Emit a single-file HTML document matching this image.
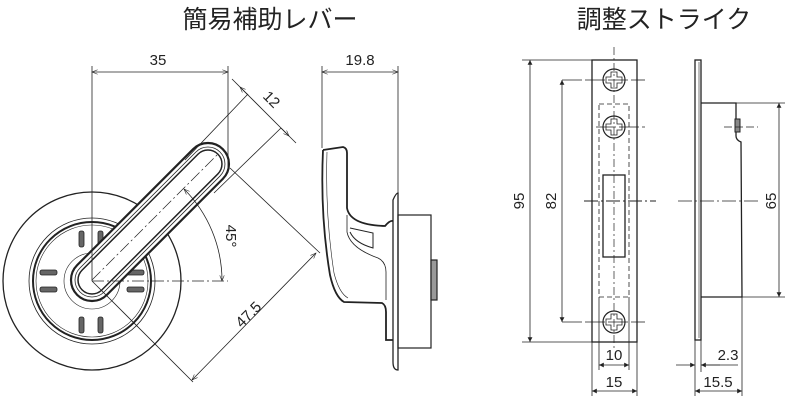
<!DOCTYPE html>
<html><head><meta charset="utf-8"><style>
body{margin:0;background:#fff}
svg{display:block}
text{font-family:"Liberation Sans","Noto Sans CJK JP",sans-serif;fill:#222}
</style></head><body>
<svg width="791" height="406" viewBox="0 0 791 406" xmlns="http://www.w3.org/2000/svg">
<defs>
<marker id="a" viewBox="0 0 10 10" refX="10" refY="5" markerWidth="9" markerHeight="7" orient="auto-start-reverse"><path d="M0,1 L10,5 L0,9" fill="none" stroke="#222" stroke-width="1"/></marker>
<marker id="f" viewBox="0 0 10 10" refX="10" refY="5" markerWidth="9" markerHeight="6" orient="auto-start-reverse"><path d="M0,0 L10,5 L0,10z" fill="#222"/></marker>
</defs>
<text x="270" y="28" font-size="25" text-anchor="middle">簡易補助レバー</text>
<text x="664" y="28" font-size="25" text-anchor="middle">調整ストライク</text>

<g stroke="#222" fill="none" stroke-width="1">
<!-- rosette -->
<circle cx="92" cy="281" r="89" stroke-width="1.3"/>
<circle cx="92" cy="281" r="63" stroke-width="0.8"/>
<circle cx="92" cy="281" r="59" stroke-width="2"/>
<circle cx="92" cy="281" r="56" stroke-width="0.6"/>
<circle cx="92" cy="281" r="28" stroke-width="0.6"/>
<g fill="#666" stroke-width="0.8">
<rect x="79" y="231" width="5" height="16" rx="2"/><rect x="98" y="231" width="5" height="16" rx="2"/>
<rect x="79" y="317" width="5" height="16" rx="2"/><rect x="98" y="317" width="5" height="16" rx="2"/>
<rect x="40" y="270" width="17" height="5" rx="2"/><rect x="40" y="287" width="17" height="5" rx="2"/>
<rect x="127" y="270" width="17" height="5" rx="2"/><rect x="127" y="287" width="17" height="5" rx="2"/>
</g>
<!-- lever -->
<g transform="translate(92,280) rotate(-45)">
<rect x="-21" y="-21" width="206" height="42" rx="21" fill="#fff" stroke-width="2.2"/>
<rect x="-17" y="-17" width="198" height="34" rx="17" stroke-width="0.8"/>
<rect x="-14" y="-14" width="192" height="28" rx="14" stroke-width="1.5"/>
<line x1="0" y1="0" x2="180" y2="0" stroke-dasharray="12,3,2,3" stroke-width="0.7"/>
</g>
<!-- dims left -->
<line x1="92" y1="66" x2="92" y2="281" stroke-width="0.8"/>
<line x1="228" y1="66" x2="228" y2="170" stroke-width="0.8"/>
<line x1="92" y1="72" x2="228" y2="72" marker-start="url(#a)" marker-end="url(#a)" stroke-width="0.8"/>
<line x1="92" y1="281" x2="228" y2="281" stroke-dasharray="12,3,2,3" stroke-width="0.7"/>
<path d="M222,281 A130,130 0 0 0 184,189" marker-start="url(#a)" marker-end="url(#a)" stroke-width="0.8"/>
<line x1="185" y1="160" x2="248" y2="94" stroke-width="0.8"/>
<line x1="214" y1="193" x2="281" y2="128" stroke-width="0.8"/>
<line x1="232" y1="79" x2="296" y2="143" stroke-width="0.8"/>
<line x1="240" y1="87" x2="248" y2="95" marker-start="url(#a)" stroke-width="0.8"/>
<line x1="281" y1="128" x2="289" y2="136" marker-end="url(#a)" stroke-width="0.8"/>
<line x1="92" y1="281" x2="193" y2="382" stroke-width="0.8"/>
<line x1="230" y1="168" x2="320" y2="253" stroke-width="0.8"/>
<line x1="192" y1="380" x2="316" y2="253" marker-start="url(#a)" marker-end="url(#a)" stroke-width="0.8"/>

<!-- side view -->
<line x1="322" y1="66" x2="322" y2="148" stroke-width="0.8"/>
<line x1="398" y1="66" x2="398" y2="195" stroke-width="0.8"/>
<line x1="322" y1="72" x2="398" y2="72" marker-start="url(#a)" marker-end="url(#a)" stroke-width="0.8"/>
<path d="M323,150 L343,147 Q347,148 347,153 L347,208 Q350,225 385,226 Q390,220 393,221" stroke-width="1.8"/>
<path d="M323,150 Q320,215 330,275 Q335,297 344,302 L382,303 Q386,305 386,312 L386,340 L393,340" stroke-width="1.8"/>
<path d="M327,152 Q325,215 334,273 Q339,293 348,298" stroke-width="0.6"/>
<path d="M347,215 L347,232 Q350,248 378,258 Q386,262 386,272 L386,300" stroke-width="0.8"/>
<path d="M350,228 L373,233 L373,248 Q355,243 350,232" stroke-width="1"/>
<path d="M393,200 Q396,193 398,193 L398,370 Q393,370 393,362 Z" fill="#fff" stroke-width="1.3"/>
<rect x="398" y="215" width="33" height="133" stroke-width="1.2"/>
<rect x="431" y="260" width="6" height="40" stroke-width="1.2" fill="#999"/>

<!-- strike front -->
<rect x="592" y="60" width="45" height="282" stroke-width="1.3"/>
<rect x="599" y="104" width="30" height="193" stroke-dasharray="5,3" stroke-width="0.8"/>
<rect x="603" y="175" width="22" height="82" stroke-width="1.3"/>
<line x1="614" y1="47" x2="614" y2="350" stroke-dasharray="8,3,2,3" stroke-width="0.7"/>
<line x1="584" y1="201" x2="656" y2="201" stroke-dasharray="14,3,2,3" stroke-width="0.9"/>
<g stroke-width="1.2">
<circle cx="614" cy="80" r="11"/><circle cx="614" cy="127" r="11"/><circle cx="614" cy="322" r="11"/>
</g>
<g stroke-width="0.8">
<path d="M611,72 h6 v5 h5 v6 h-5 v5 h-6 v-5 h-5 v-6 h5z"/>
<path d="M611,119 h6 v5 h5 v6 h-5 v5 h-6 v-5 h-5 v-6 h5z"/>
<path d="M611,314 h6 v5 h5 v6 h-5 v5 h-6 v-5 h-5 v-6 h5z"/>
<line x1="562" y1="80" x2="645" y2="80" stroke-dasharray="20,3"/>
<line x1="596" y1="127" x2="645" y2="127" stroke-dasharray="20,3"/>
<line x1="562" y1="322" x2="645" y2="322" stroke-dasharray="20,3"/>
<line x1="522" y1="60" x2="592" y2="60"/><line x1="522" y1="342" x2="592" y2="342"/>
<line x1="530" y1="60" x2="530" y2="342" marker-start="url(#f)" marker-end="url(#f)"/>
<line x1="562" y1="80" x2="562" y2="322" marker-start="url(#f)" marker-end="url(#f)"/>
<line x1="592" y1="342" x2="592" y2="396"/><line x1="637" y1="342" x2="637" y2="396"/>
<line x1="599" y1="297" x2="599" y2="370"/><line x1="629" y1="297" x2="629" y2="370"/>
<line x1="599" y1="365" x2="629" y2="365" marker-start="url(#f)" marker-end="url(#f)"/>
<line x1="592" y1="391" x2="637" y2="391" marker-start="url(#f)" marker-end="url(#f)"/>
</g>
<!-- strike side -->
<rect x="695" y="60" width="6" height="280" stroke-width="1.3"/>
<line x1="699" y1="62" x2="699" y2="338" stroke-width="0.6"/>
<path d="M701,103 L736,103 L736,136 Q736,140 741,142 L742,297 L701,297" stroke-width="1.3"/>
<rect x="735" y="119" width="5" height="13" stroke-width="1" fill="#888"/>
<g stroke-width="0.8">
<line x1="724" y1="127" x2="758" y2="127" stroke-dasharray="8,3"/>
<line x1="678" y1="201" x2="760" y2="201" stroke-dasharray="14,3,2,3"/>
<line x1="736" y1="103" x2="785" y2="103"/><line x1="742" y1="297" x2="785" y2="297"/>
<line x1="779" y1="103" x2="779" y2="297" marker-start="url(#f)" marker-end="url(#f)"/>
<line x1="695" y1="340" x2="695" y2="396"/><line x1="701" y1="340" x2="701" y2="372"/><line x1="742" y1="297" x2="742" y2="396"/>
<line x1="676" y1="365" x2="695" y2="365" marker-end="url(#f)"/>
<line x1="720" y1="365" x2="701" y2="365" marker-end="url(#f)"/>
<line x1="701" y1="365" x2="738" y2="365"/>
<line x1="695" y1="391" x2="742" y2="391" marker-start="url(#f)" marker-end="url(#f)"/>
</g>
</g>
<text x="158" y="65" font-size="15" text-anchor="middle">35</text>
<text x="360" y="65" font-size="15" text-anchor="middle">19.8</text>
<text transform="translate(268,103) rotate(45)" font-size="15" text-anchor="middle">12</text>
<text transform="translate(226,236) rotate(90)" font-size="15" text-anchor="middle">45°</text>
<text transform="translate(252,318) rotate(-45)" font-size="15" text-anchor="middle">47.5</text>
<text transform="translate(524,201) rotate(-90)" font-size="15" text-anchor="middle">95</text>
<text transform="translate(556,201) rotate(-90)" font-size="15" text-anchor="middle">82</text>
<text transform="translate(776,201) rotate(-90)" font-size="15" text-anchor="middle">65</text>
<text x="614" y="360" font-size="15" text-anchor="middle">10</text>
<text x="614" y="387" font-size="15" text-anchor="middle">15</text>
<text x="728" y="360" font-size="15" text-anchor="middle">2.3</text>
<text x="718" y="387" font-size="15" text-anchor="middle">15.5</text>
</svg>
</body></html>
